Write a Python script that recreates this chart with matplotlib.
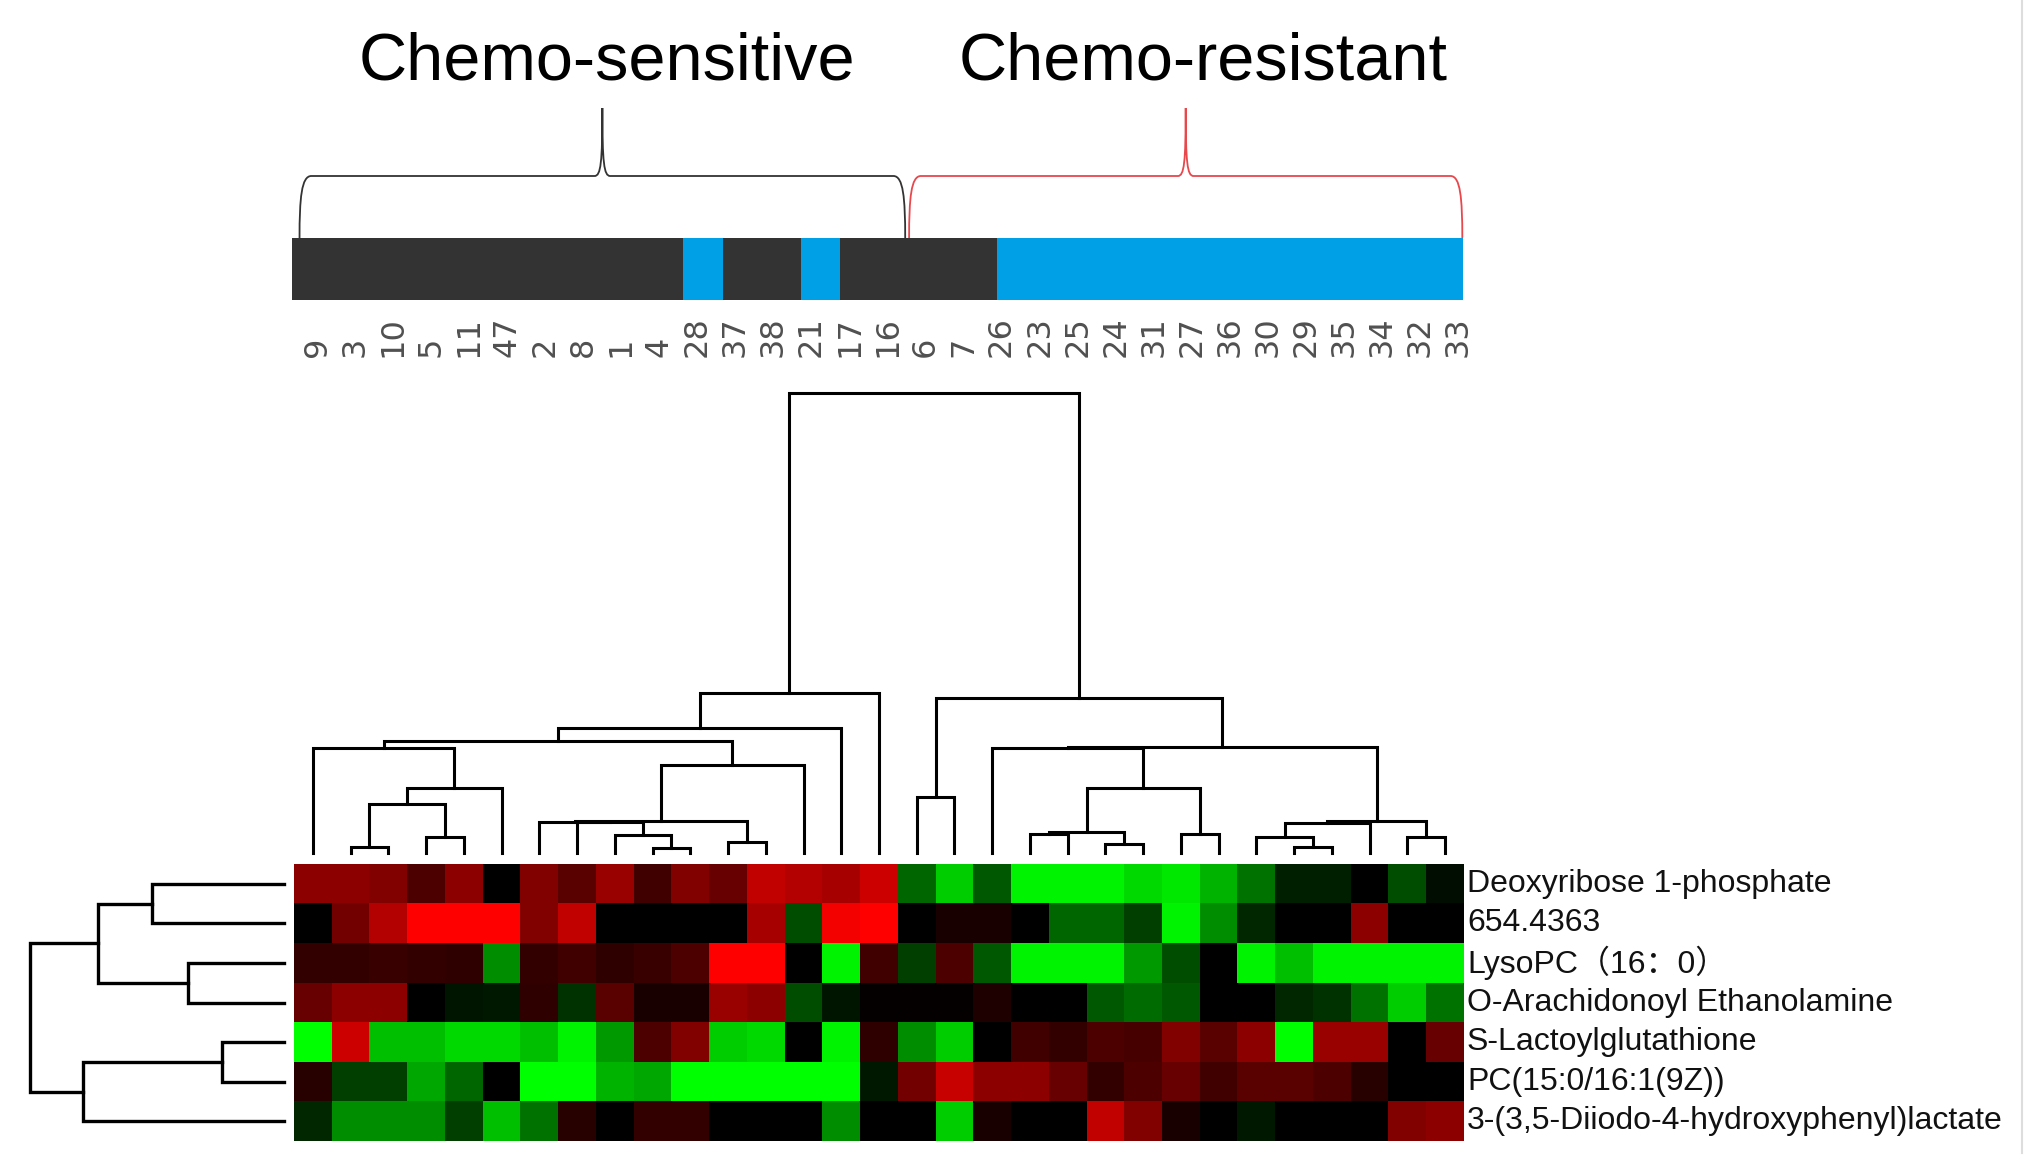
# Heatmap with dendrograms: chemo-sensitive vs chemo-resistant samples
import numpy as np
import matplotlib
matplotlib.use("Agg")
import matplotlib.pyplot as plt
from matplotlib.colors import LinearSegmentedColormap, ListedColormap
from matplotlib.path import Path
from matplotlib.patches import PathPatch
from matplotlib.lines import Line2D

# ---- data -------------------------------------------------------------
sample_labels = ['9', '3', '10', '5', '11', '47', '2', '8', '1', '4', '28', '37', '38', '21',
                 '17', '16', '6', '7', '26', '23', '25', '24', '31', '27', '36', '30', '29',
                 '35', '34', '32', '33']

metabolites = ['Deoxyribose 1-phosphate', '654.4363', 'LysoPC（16：0）',
               'O-Arachidonoyl Ethanolamine', 'S-Lactoylglutathione',
               'PC(15:0/16:1(9Z))', '3-(3,5-Diiodo-4-hydroxyphenyl)lactate']

# 0 = dark (sensitive), 1 = blue (resistant)
sample_group = [0, 0, 0, 0, 0, 0, 0, 0, 0, 0, 1, 0, 0, 1, 0, 0, 0, 0,
                1, 1, 1, 1, 1, 1, 1, 1, 1, 1, 1, 1, 1]

# scaled abundance, one row per metabolite, columns in sample_labels order
row_deoxyribose = [0.55, 0.55, 0.5, 0.3, 0.55, 0, 0.5, 0.35, 0.6, 0.25, 0.5, 0.4, 0.75, 0.7, 0.65, 0.8,
                   -0.4, -0.8, -0.35, -0.95, -0.95, -0.95, -0.85, -0.9, -0.7, -0.45, -0.12, -0.12, 0, -0.3, -0.05]
row_654 = [0, 0.45, 0.7, 1, 1, 1, 0.5, 0.75, 0, 0, 0, 0, 0.65, -0.3, 0.95, 1,
           0, 0.1, 0.1, 0, -0.4, -0.4, -0.25, -0.95, -0.55, -0.15, 0, 0, 0.55, 0, 0]
row_lysopc = [0.2, 0.2, 0.22, 0.2, 0.18, -0.55, 0.2, 0.25, 0.18, 0.22, 0.3, 1, 1, 0, -0.95, 0.25,
              -0.25, 0.3, -0.35, -0.95, -0.95, -0.95, -0.6, -0.3, 0, -0.95, -0.75, -0.95, -0.95, -0.95, -0.95]
row_arach = [0.4, 0.55, 0.55, 0, -0.08, -0.1, 0.18, -0.2, 0.35, 0.1, 0.1, 0.6, 0.55, -0.3, -0.08, 0.02,
             0.02, 0.02, 0.12, 0, 0, -0.35, -0.42, -0.35, 0, 0, -0.15, -0.2, -0.45, -0.8, -0.45]
row_lactoyl = [-1, 0.8, -0.75, -0.75, -0.85, -0.85, -0.75, -0.95, -0.6, 0.3, 0.5, -0.8, -0.85, 0, -0.95, 0.18,
               -0.55, -0.8, 0, 0.25, 0.2, 0.3, 0.28, 0.5, 0.35, 0.55, -1, 0.6, 0.6, 0, 0.4]
row_pc = [0.15, -0.25, -0.25, -0.65, -0.4, 0, -1, -1, -0.7, -0.65, -1, -1, -1, -1, -1, -0.1,
          0.45, 0.78, 0.55, 0.55, 0.4, 0.2, 0.3, 0.4, 0.25, 0.35, 0.35, 0.3, 0.15, 0, 0]
row_diiodo = [-0.15, -0.55, -0.55, -0.55, -0.25, -0.75, -0.45, 0.15, 0, 0.2, 0.2, 0, 0, 0, -0.55, 0,
              0, -0.8, 0.1, 0, 0, 0.75, 0.5, 0.1, 0, -0.1, 0, 0, 0, 0.5, 0.55]

# column dendrogram merges (left node, right node, height); leaves 0..30, merges 31..
col_merges = [(1, 2, 6), (3, 4, 16), (31, 32, 49), (33, 5, 65), (0, 34, 105),
              (9, 10, 5), (8, 36, 18), (11, 12, 11), (7, 37, 31), (6, 39, 31.5),
              (40, 38, 32), (41, 13, 88), (35, 42, 112), (43, 14, 125), (44, 15, 160),
              (16, 17, 56), (19, 20, 19), (21, 22, 9), (47, 48, 21), (23, 24, 19),
              (49, 50, 65), (18, 51, 105), (26, 27, 6), (25, 53, 16), (54, 28, 30),
              (29, 30, 16), (55, 56, 32), (52, 57, 106), (46, 58, 155), (45, 59, 460)]

# row dendrogram merges; leaves 0..6, merges 7..
row_merges = [(0, 1, 132), (2, 3, 96), (7, 8, 186), (4, 5, 62), (10, 6, 201), (9, 11, 254)]

# brace spans over the colour bar (bar cell units)
group_names = ['Chemo-sensitive', 'Chemo-resistant']
group_spans = [(0.2, 15.67), (15.77, 29.9)]
group_colors = ['#333333', '#e8474c']

matrix = np.array([row_deoxyribose, row_654, row_lysopc, row_arach,
                   row_lactoyl, row_pc, row_diiodo])
n_rows, n_cols = matrix.shape

# ---- figure -----------------------------------------------------------
W, H = 2031, 1166
fig = plt.figure(figsize=(W / 100, H / 100), dpi=100)
fig.patch.set_facecolor('white')


def box(x0, y0, x1, y1):
    # pixel box (top-left origin) -> figure fraction rect
    return [x0 / W, 1 - y1 / H, (x1 - x0) / W, (y1 - y0) / H]


label_font = ['Liberation Sans', 'Noto Sans CJK SC', 'DejaVu Sans']

# heatmap
ax_hm = fig.add_axes(box(294, 864, 1464, 1141))
greenred = LinearSegmentedColormap.from_list('greenred', ['#00ff00', '#000000', '#ff0000'])
ax_hm.imshow(matrix, cmap=greenred, vmin=-1, vmax=1, aspect='auto',
             interpolation='nearest', extent=(-0.5, n_cols - 0.5, n_rows - 0.5, -0.5))
ax_hm.set_axis_off()
for i, name in enumerate(metabolites):
    ax_hm.text(n_cols - 0.5 + 0.08, i, name, ha='left', va='center',
               fontsize=23, family=label_font, color='#111111')


def draw_dendro(ax, merges, n, vertical):
    pos = {i: float(i) for i in range(n)}
    hgt = {i: 0.0 for i in range(n)}
    for k, (a, b, h) in enumerate(merges):
        xs = [pos[a], pos[a], pos[b], pos[b]]
        ys = [hgt[a], h, h, hgt[b]]
        if vertical:
            ax.plot(xs, ys, color='black', lw=2.2, clip_on=False, solid_joinstyle='miter')
        else:
            ax.plot(ys, xs, color='black', lw=2.4, clip_on=False, solid_joinstyle='miter')
        pos[n + k] = (pos[a] + pos[b]) / 2
        hgt[n + k] = h
    return merges[-1][2]


# column dendrogram
ax_cd = fig.add_axes(box(294, 393, 1464, 853))
top = draw_dendro(ax_cd, col_merges, n_cols, True)
ax_cd.set_xlim(-0.5, n_cols - 0.5)
ax_cd.set_ylim(0, top)
ax_cd.set_axis_off()

# row dendrogram
ax_rd = fig.add_axes(box(30, 864, 284, 1141))
top = draw_dendro(ax_rd, row_merges, n_rows, False)
ax_rd.set_xlim(top, 0)
ax_rd.set_ylim(n_rows - 0.5, -0.5)
ax_rd.set_axis_off()

# group colour bar
ax_cb = fig.add_axes(box(291.7, 238, 1462.7, 300))
ax_cb.imshow([sample_group], cmap=ListedColormap(['#333333', '#00a0e6']), vmin=0, vmax=1,
             aspect='auto', interpolation='nearest', extent=(0, n_cols, 1, 0))
ax_cb.set_xlim(0, 29.91)
ax_cb.set_ylim(1, 0)
ax_cb.set_axis_off()

# sample labels
ax_lab = fig.add_axes(box(298, 300, 1477, 357))
ax_lab.set_xlim(-0.5, n_cols - 0.5)
ax_lab.set_ylim(0, 1)
ax_lab.set_axis_off()
for k, lab in enumerate(sample_labels):
    ax_lab.text(k, 0, lab, rotation=90, ha='center', va='bottom',
                fontsize=23, color='#505050', family='DejaVu Sans')

# braces above the bar
ax_br = fig.add_axes(box(291.7, 100, 1462.7, 238))
ax_br.set_xlim(0, 29.91)
ax_br.set_ylim(0, 138)
ax_br.set_axis_off()
for (x0, x1), col in zip(group_spans, group_colors):
    xm = (x0 + x1) / 2
    verts = [(x0, 0), (x0, 40), (x0 + 0.05, 62), (x0 + 0.3, 62),
             (xm - 0.2, 62),
             (xm - 0.04, 62), (xm, 75), (xm, 130),
             (xm, 75), (xm + 0.04, 62), (xm + 0.2, 62),
             (x1 - 0.3, 62),
             (x1 - 0.05, 62), (x1, 40), (x1, 0)]
    codes = [Path.MOVETO, Path.CURVE4, Path.CURVE4, Path.CURVE4,
             Path.LINETO,
             Path.CURVE4, Path.CURVE4, Path.CURVE4,
             Path.CURVE4, Path.CURVE4, Path.CURVE4,
             Path.LINETO,
             Path.CURVE4, Path.CURVE4, Path.CURVE4]
    ax_br.add_patch(PathPatch(Path(verts, codes), facecolor='none', edgecolor=col,
                              lw=1.3, clip_on=False))

# group titles
for name, xpix in zip(group_names, [607, 1203]):
    fig.text(xpix / W, 1 - 80 / H, name, ha='center', va='baseline',
             fontsize=48, family=label_font, color='black')

# faint frame line on the right edge, as in the source figure
fig.add_artist(Line2D([2022 / W, 2022 / W], [1 - 1153 / H, 1], color='#dddddd', lw=1.5))

fig.savefig('out.png', dpi=100, facecolor='white')
